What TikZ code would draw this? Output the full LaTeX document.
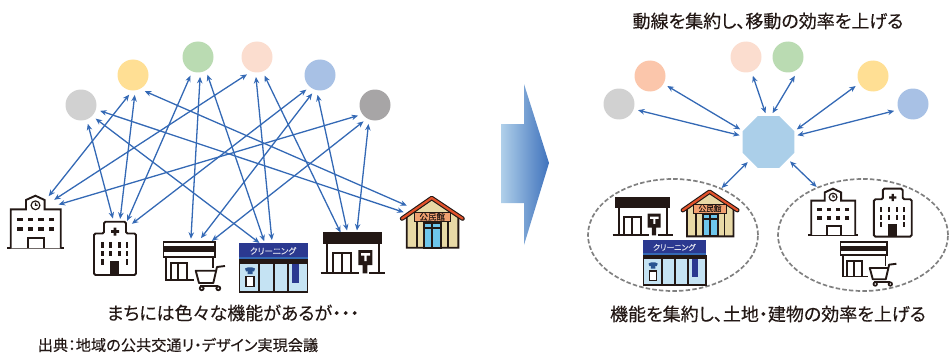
\documentclass[tikz,border=0pt]{standalone}
\usepackage{fontspec}
\setmainfont{Noto Sans CJK JP}[RawFeature={+palt},FakeBold=0.25]
\usetikzlibrary{arrows.meta,shapes.geometric}
\definecolor{linkblue}{HTML}{3469B5}
\definecolor{inkdark}{HTML}{231815}
\definecolor{signnavy}{HTML}{2B3990}
\definecolor{paleblue}{HTML}{C5E3F3}
\definecolor{wallbeige}{HTML}{E8D9A6}
\definecolor{roofred}{HTML}{E2522B}
\definecolor{signorange}{HTML}{F0A070}
\definecolor{doorcyan}{HTML}{6EC6EC}
\tikzset{
  school/.pic={
    \draw[bld] (0,53.3) -- (57,53.3);
    \draw[bld,fill=white] (3.7,53.3) -- (3.7,14.3) -- (19,14.3) -- (19,5) -- (28.4,.7) -- (37.6,5) -- (37.6,14.3) -- (53.7,14.3) -- (53.7,53.3);
    \draw[bld,line width=1.2pt] (28.5,10.3) circle (4.4) (28.5,7.7) -- (28.5,10.3) -- (30.5,10.3);
    \foreach \wx in {13,23.7,34,44.3} \foreach \wy in {24.3,34}
      \fill[inkdark] (\wx-2.6,\wy-1.8) rectangle (\wx+2.6,\wy+1.8);
    \draw[bld] (21.3,53.3) -- (21.3,42.7) -- (37,42.7) -- (37,53.3);
  },
  hospital/.pic={
    \draw[bld,fill=white,rounded corners=1.5pt] (1,54) -- (1,12.5) -- (11,12.5) -- (11,.7) -- (33,.7) -- (33,12.5) -- (43,12.5) -- (43,54) -- cycle;
    \fill[inkdark] (20.7,6.5) rectangle (23.3,14.5) (18,9.2) rectangle (26,11.8);
    \foreach \wx in {9.3,34} \foreach \wy in {24,32.3,40.7}
      \fill[inkdark] (\wx-1.2,\wy-2.8) rectangle (\wx+1.2,\wy+2.8);
    \foreach \wx in {17.3,26.3} \foreach \wy in {24,32.3}
      \fill[inkdark] (\wx-1.2,\wy-2.8) rectangle (\wx+1.2,\wy+2.8);
    \fill[inkdark] (17,40) rectangle (26.3,54);
  },
  conv/.pic={
    \draw[bld] (3,15.7) -- (3,39) -- (31,39) (50,15.7) -- (50,27);
    \draw[bld] (7.7,39) -- (7.7,22) -- (23.7,22) -- (23.7,39) (15.3,22) -- (15.3,39);
    \draw[bld,fill=white] (.5,.7) rectangle (52,15.7);
    \fill[inkdark] (.5,5) rectangle (52,11);
    \draw[bld,line join=round] (62,25) -- (54,26) -- (50.3,42) -- (36,42) -- (32.7,29.7) -- (53,29.7);
    \draw[bld,line width=1.2pt] (37,45) -- (55,45);
    \fill[inkdark] (38.7,47.3) circle (2.9) (55.3,47.3) circle (2.9);
    \fill[white] (38.7,47.3) circle (.9) (55.3,47.3) circle (.9);
  },
  clean/.pic={
    \fill[signnavy] (0,0) rectangle (69,17);
    \fill[linkblue] (0,14) rectangle (69,16);
    \draw[bld,fill=paleblue] (.5,17) rectangle (68.5,48.7);
    \fill[inkdark] (.5,18) rectangle (68.5,21);
    \draw[bld] (20.3,21) -- (20.3,48.7) (35,21) -- (35,48.7) (48.7,21) -- (48.7,48.7);
    \fill[signnavy] (53.3,21) rectangle (60,40.3);
    \fill[linkblue!80!black] (6,25.5) -- (9,24.3) -- (13,24.3) -- (16,25.5) -- (15,28.5) -- (13.5,28) -- (13.5,31) -- (8.5,31) -- (8.5,28) -- (7,28.5) -- cycle;
    \draw[bld,line width=1.2pt,fill=white] (7,33.7) rectangle (15,43.7);
    \node[transform shape,inner sep=0,text=white!85!signnavy,font=\fontsize{8.5}{8.5}\selectfont] (signtext) at (34,8) {クリーニング};
  },
  post/.pic={
    \fill[inkdark] (2.3,.3) rectangle (61.3,12);
    \draw[bld] (6.3,12) -- (6.3,41.3) (58,12) -- (58,41.3);
    \draw[bld] (-.3,41.3) -- (38.3,41.3) (48.3,41.3) -- (64,41.3);
    \draw[bld] (12.3,41.3) -- (12.3,21.3) -- (29.7,21.3) -- (29.7,41.3) (20.7,21.3) -- (20.7,41.3);
    \fill[inkdark] (37.3,18) rectangle (51.3,33) (41.7,33) rectangle (46.3,41.3);
    \fill[white] (40,21) rectangle (49,23.5) (43.4,23.5) rectangle (45.6,29);
  },
  hall/.pic={
    \draw[bld,fill=wallbeige] (6.7,52.7) -- (6.7,22) -- (31.7,4) -- (58.3,22) -- (58.3,52.7) -- cycle;
    \draw[inkdark,line width=4.4pt,line cap=round,line join=round] (2,23.6) -- (31.7,3) -- (62.6,23.6);
    \draw[roofred,line width=2.2pt,line cap=round,line join=round] (2,23.6) -- (31.7,3) -- (62.6,23.6);
    \draw[bld,fill=doorcyan] (24,27.7) rectangle (40.7,52.7);
    \draw[bld] (32.3,27.7) -- (32.3,52.7) (24,33.3) -- (40.7,33.3);
    \draw[bld] (16.7,26.7) -- (16.7,52.7) (48.3,26.7) -- (48.3,52.7);
    \draw[inkdark,line width=.8pt,fill=signorange] (14.3,17.3) rectangle (50,26.7);
    \node[transform shape,inner sep=0,text=inkdark,font=\fontsize{8.5}{8.5}\selectfont] (signhall) at (32.2,21.8) {公民館};
  }
}
\begin{document}
\begin{tikzpicture}[x=1pt, y=-1pt, semithick, >={Stealth[length=6.5pt,width=5.5pt]}]
  \tikzstyle{bld}=[draw=inkdark,line width=1.9pt]
  \tikzstyle{dot}=[circle,inner sep=0pt,outer sep=4.5pt,minimum size=31pt]
  \tikzstyle{spot}=[circle,inner sep=0pt,outer sep=0pt]
  \tikzstyle{link}=[linkblue,line width=1.3pt,<->]
  \tikzstyle{group}=[ellipse,inner sep=0pt,outer sep=1pt,minimum width=170pt,minimum height=112pt,draw=black!50,line width=1.7pt,dash pattern=on 4.5pt off 2.2pt]
  \tikzstyle{caption}=[text=inkdark,inner sep=0pt,font=\fontsize{18}{18}\selectfont]
  \useasboundingbox (0,0) rectangle (950,353);

  % left side
  \node[dot,fill=black!18!white] (greyL)   at (81,105)  {};
  \node[dot,fill={rgb,255:red,255;green,223;blue,148}] (yellowL) at (133,75)  {};
  \node[dot,fill={rgb,255:red,186;green,219;blue,178}] (greenL)  at (198,57)  {};
  \node[dot,fill={rgb,255:red,251;green,221;blue,207}] (peachL)  at (257,57)  {};
  \node[dot,fill={rgb,255:red,168;green,193;blue,229}] (blueL)   at (320,75)  {};
  \node[dot,fill={rgb,255:red,167;green,165;blue,166}] (darkL)   at (375,105) {};

  \node[spot,minimum size=58pt] (schoolL) at (35.5,222) {};
  \node[spot,minimum size=59pt] (hospL)   at (115,248)  {};
  \node[spot,minimum size=68pt] (convL)   at (198,272)  {};
  \node[spot,minimum size=64pt] (cleanL)  at (273,272)  {};
  \node[spot,minimum size=52pt] (postL)   at (352,256)  {};
  \node[spot,minimum size=60pt] (hallL)   at (432,222)  {};

  \path[link] (greyL.-70)    edge (hospL.94)
              (greyL.-43)    edge (cleanL.115)
              (greyL.-17)    edge (hallL.161)
              (yellowL.-101) edge (schoolL.63)
              (yellowL.-85)  edge (hospL.80)
              (yellowL.-54)  edge (hallL.147)
              (greenL.-112)  edge (hospL.66)
              (greenL.-84)   edge (convL.102)
              (greenL.-62)   edge (cleanL.106)
              (peachL.-120)  edge (schoolL.50)
              (peachL.-93)   edge (cleanL.92)
              (peachL.-68)   edge (postL.116)
              (blueL.-133)   edge (hospL.55)
              (blueL.-113)   edge (convL.85)
              (blueL.-97)    edge (postL.101)
              (darkL.-148)   edge (schoolL.37)
              (darkL.-125)   edge (convL.66)
              (darkL.-109)   edge (postL.79);

  \pic at (7,195)   {school};
  \pic at (93,221)  {hospital};
  \pic at (163,241) {conv};
  \pic at (239,243) {clean};
  \pic at (321,232) {post};
  \pic at (400,195) {hall};

  \node[caption] (machi) at (233,313) {まちには色々な機能があるが・・・};
  \node[text=inkdark,inner sep=0pt,font=\fontsize{15.2}{15.2}\selectfont] (source) at (178,345) {出典：地域の公共交通リ・デザイン実現会議};

  % big arrow
  \shade[left color={rgb,255:red,176;green,208;blue,234},right color={rgb,255:red,63;green,114;blue,188}]
    (501,124) -- (524,124) -- (524,84) -- (549,163) -- (524,245) -- (524,203) -- (501,203) -- cycle;

  % right side
  \node[dot,fill=black!18!white] (greyR)   at (619,104) {};
  \node[dot,fill={rgb,255:red,251;green,198;blue,171}] (orangeR) at (650,76)  {};
  \node[dot,fill={rgb,255:red,251;green,221;blue,207}] (peachR)  at (746,57)  {};
  \node[dot,fill={rgb,255:red,186;green,219;blue,178}] (greenR)  at (788,57)  {};
  \node[dot,fill={rgb,255:red,255;green,223;blue,148}] (yellowR) at (873,76)  {};
  \node[dot,fill={rgb,255:red,168;green,193;blue,229}] (blueR)   at (913,104) {};

  \node[regular polygon,regular polygon sides=8,inner sep=0pt,outer sep=3pt,minimum size=56pt,fill={rgb,255:red,171;green,207;blue,233}] (hub) at (768.5,142) {};

  \node[group] (groupA) at (673,235) {};
  \node[group] (groupB) at (863,235) {};

  \path[link] (hub.167) edge (greyR.-18)
              (hub.156) edge (orangeR.-30)
              (hub.96)  edge (peachR.-70)
              (hub.82)  edge (greenR.-70)
              (hub.24)  edge (yellowR.-150)
              (hub.13)  edge (blueR.-160)
              (hub.-136) edge (groupA.44)
              (hub.-42)  edge (groupB.134);

  \pic[scale=.93] at (613,197) {post};
  \pic[scale=.9]  at (681,189) {hall};
  \pic[scale=.92] at (643,240) {clean};
  \pic[scale=.88] at (808,188) {school};
  \pic[scale=.9]  at (873,188) {hospital};
  \pic[scale=.91] at (840,241) {conv};

  \node[caption] (top) at (768,21) {動線を集約し、移動の効率を上げる};
  \node[caption] (bottom) at (768,314) {機能を集約し、土地・建物の効率を上げる};
\end{tikzpicture}
\end{document}
